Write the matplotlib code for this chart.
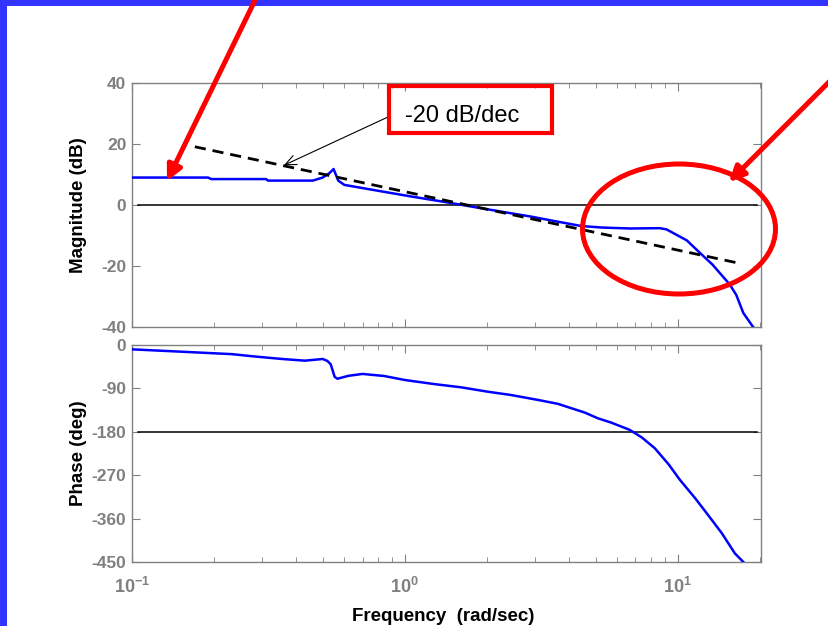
import math
import matplotlib
matplotlib.use("Agg")
import matplotlib.pyplot as plt
from matplotlib.patches import Ellipse, Rectangle
from matplotlib.ticker import LogLocator, FuncFormatter, NullFormatter

plt.rcParams['font.family'] = ['Liberation Sans', 'DejaVu Sans']
plt.rcParams['axes.unicode_minus'] = False
plt.rcParams['mathtext.fontset'] = 'custom'
plt.rcParams['mathtext.bf'] = 'Liberation Sans:bold'
plt.rcParams['mathtext.rm'] = 'Liberation Sans'

# magnitude curve (rad/sec, dB)
freq_mag = [0.1, 0.19, 0.195, 0.31, 0.315, 0.46, 0.5, 0.53, 0.548, 0.57,
            0.6, 0.77, 1.07, 1.4, 1.75, 2.3, 2.9, 3.6, 4.44, 5.3,
            6.7, 8.6, 9.1, 10.2, 10.8, 12.4, 13.4, 15.5, 16.4, 17.4, 18.9]
mag_db = [9.0, 9.0, 8.5, 8.5, 8.0, 8.0, 9.0, 10.5, 11.8, 8.0,
          6.6, 4.9, 2.7, 1.0, -0.5, -2.3, -3.8, -5.4, -6.9, -7.4,
          -7.7, -7.6, -8.0, -10.4, -11.6, -16.7, -19.5, -26.0, -29.5, -35.4, -40.0]

# phase curve (rad/sec, deg)
freq_ph = [0.1, 0.129, 0.16, 0.197, 0.233, 0.27, 0.31, 0.355, 0.43, 0.5,
           0.52, 0.535, 0.553, 0.566, 0.62, 0.7, 0.84, 1.0, 1.28, 1.61,
           2.01, 2.45, 3.08, 3.64, 4.07, 4.56, 5.1, 5.71, 6.67, 7.38,
           8.24, 9.25, 10.2, 11.6, 12.9, 14.5, 16.2, 17.4]
phase_deg = [-9, -12, -14.5, -17, -19, -22.8, -26, -29, -32.5, -29,
             -33, -40, -66, -70, -64, -60, -64.3, -72.6, -81, -87.8,
             -96.8, -103.7, -114, -122, -131, -140, -152, -161, -176, -191.5,
             -214, -247, -280, -318, -352, -390, -432, -450]

# -20 dB/dec asymptote
freq_slope = [0.17, 16.6]
slope_db = [19.1, -19.0]

mag_ticks = [40, 20, 0, -20, -40]
phase_ticks = [0, -90, -180, -270, -360, -450]
xlims = (0.1, 20.2)

gray = '#808080'

fig = plt.figure(figsize=(8.29, 6.26), dpi=100)
ax1 = fig.add_axes([132/829, 1-327/626, 629/829, 244/626])
ax2 = fig.add_axes([132/829, 1-562/626, 629/829, 217/626])


def style(ax):
    ax.set_xscale('log')
    ax.set_xlim(*xlims)
    ax.xaxis.set_major_locator(LogLocator(base=10))
    ax.xaxis.set_minor_locator(LogLocator(base=10, subs=range(2, 10)))
    ax.xaxis.set_minor_formatter(NullFormatter())
    ax.tick_params(which='both', direction='in', top=True, right=True,
                   colors=gray, labelsize=12.5, pad=4)
    ax.tick_params(which='major', length=5.5)
    ax.tick_params(which='minor', length=3.5)
    for lab in ax.get_yticklabels():
        lab.set_fontweight('bold')
    for sp in ax.spines.values():
        sp.set_color(gray)
        sp.set_linewidth(1.0)


# magnitude
ax1.plot(freq_mag, mag_db, color='#0000FF', lw=1.8, zorder=3)
ax1.plot(freq_slope, slope_db, color='black', lw=2.0, ls=(0, (4, 2.5)), zorder=4)
ax1.plot([0.105, 19.5], [0, 0], color='black', lw=1.1, zorder=2)
ax1.set_ylim(-40, 40)
ax1.set_yticks(mag_ticks)
ax1.set_yticklabels([str(t) for t in mag_ticks])
style(ax1)
ax1.tick_params(axis='x', labelbottom=False)
ax1.set_ylabel('Magnitude (dB)', fontsize=13.5, fontweight='bold')
ax1.yaxis.set_label_coords(-0.072, 0.5)

ax1.annotate('', xy=(0.36, 13.0), xytext=(388, 626-117), textcoords='figure pixels',
             arrowprops=dict(arrowstyle='->,head_length=0.8,head_width=0.35',
                             lw=0.8, color='black', shrinkA=0, shrinkB=0))

# phase
ax2.plot(freq_ph, phase_deg, color='#0000FF', lw=1.8, zorder=3)
ax2.plot([0.105, 19.5], [-180, -180], color='black', lw=1.1, zorder=2)
ax2.set_ylim(-450, 0)
ax2.set_yticks(phase_ticks)
ax2.set_yticklabels([str(t) for t in phase_ticks])
style(ax2)
ax2.xaxis.set_major_formatter(FuncFormatter(lambda v, p: r'$\mathbf{10^{%d}}$' % round(math.log10(v))))
ax2.tick_params(axis='x', which='major', labelsize=13, pad=11)
ax2.set_ylabel('Phase (deg)', fontsize=13.5, fontweight='bold')
ax2.yaxis.set_label_coords(-0.072, 0.5)
ax2.set_xlabel('Frequency  (rad/sec)', fontsize=13.5, fontweight='bold')
ax2.xaxis.set_label_coords(0.495, -0.21)

# slide decorations in pixel space
ov = fig.add_axes([0, 0, 1, 1], zorder=10)
ov.set_xlim(0, 829)
ov.set_ylim(626, 0)
ov.axis('off')
ov.patch.set_alpha(0)

ov.add_patch(Rectangle((0, 0), 7, 626, color='#3333FF', lw=0))
ov.add_patch(Rectangle((0, 0), 829, 6, color='#3333FF', lw=0))

ov.add_patch(Rectangle((389, 86), 163, 47, fill=False, ec='red', lw=3))
ov.text(405, 116, '-20 dB/dec', fontsize=17, ha='left', va='center', color='black')

ov.add_patch(Ellipse((679, 229), 193, 130, fill=False, ec='red', lw=3.6))

red_arrow = dict(arrowstyle='-|>,head_length=0.9,head_width=0.45', lw=3.6,
                 color='red', shrinkA=0, shrinkB=0)
ov.annotate('', xy=(167, 181), xytext=(260, -10), arrowprops=red_arrow, annotation_clip=False)
ov.annotate('', xy=(729, 182), xytext=(840, 71), arrowprops=red_arrow, annotation_clip=False)

fig.savefig('out.png', dpi=100)
